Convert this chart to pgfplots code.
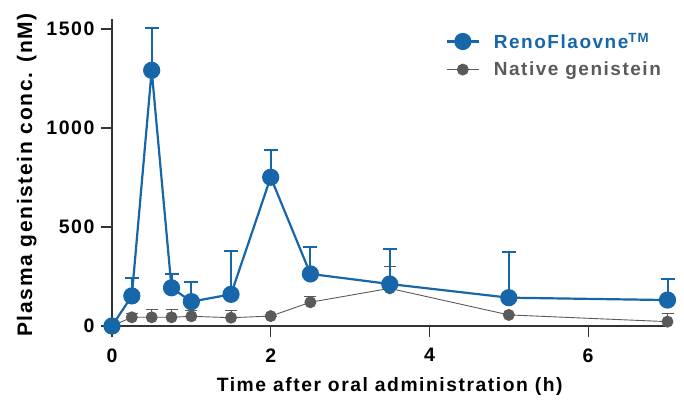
\documentclass[border=0pt]{standalone}
\usepackage{pgfplots}
\pgfplotsset{compat=1.18}
\usepackage{fontspec}
\setmainfont{Liberation Sans}[LetterSpace=8]
\definecolor{reno}{HTML}{1766AA}
\definecolor{nat}{HTML}{5A5A5A}
\begin{document}
\begin{tikzpicture}
\begin{axis}[
  scale only axis, width=555.5pt, height=307pt,
  xmin=0, xmax=7, ymin=0, ymax=1550,
  clip=false,
  axis x line=bottom, axis y line=left,
  axis line style={-, line width=1.2pt, black!80},
  tick style={line width=1.2pt, black!80},
  tick align=outside, major tick length=11pt,
  xtick={0,2,4,6}, ytick={0,500,1000,1500},
  minor tick num=0,
  /pgf/number format/assume math mode=true,
  /pgf/number format/1000 sep={},
  tick label style={font=\bfseries\fontsize{19.5}{19.5}\selectfont},
  xticklabel style={yshift=-8pt},
  yticklabel style={xshift=-3pt},
  xlabel={Time after oral administration (h)},
  ylabel={Plasma genistein conc. (nM)},
  xlabel style={font=\bfseries\fontsize{19.3}{19.3}\selectfont, yshift=-8.5pt},
  ylabel style={font=\bfseries\fontsize{21}{21}\selectfont, yshift=3pt, xshift=-2.5pt},
  legend style={draw=none, fill=none, at={(rel axis cs:0.595,0.968)}, anchor=north west,
    row sep=8pt, column sep=12pt, font=\bfseries\fontsize{19}{19}\selectfont},
  legend cell align=left,
  reverse legend,
  legend image code/.code={\draw[#1] (0pt,0pt) -- (32pt,0pt); \draw[#1, mark repeat=2, mark phase=2] plot coordinates {(0pt,0pt) (16pt,0pt) (32pt,0pt)};},
]
\addplot[color=nat, line width=0.9pt, mark=*, mark size=5.5pt, mark options={fill=nat, draw=nat},
  error bars/.cd, y dir=plus, y explicit, error bar style={line width=0.9pt, color=nat}, error mark options={rotate=90, mark size=6pt, line width=0.9pt, color=nat}]
  table[x=x, y=y, y error=e] {
x y e
0 0 0
0.25 44 20
0.5 44 40
0.75 44 40
1 49 32
1.5 42 35
2 50 0
2.5 120 31
3.5 190 110
5 56 0
7 22 39
};
\addlegendentry{\textcolor{nat}{Native genistein}}
\addplot[color=reno, line width=2.2pt, mark=*, mark size=7.5pt, mark options={fill=reno, draw=reno},
  error bars/.cd, y dir=plus, y explicit, error bar style={line width=2pt, color=reno}, error mark options={rotate=90, mark size=7pt, line width=2pt, color=reno}]
  table[x=x, y=y, y error=e] {
x y e
0 0 0
0.25 152 90
0.5 1291 215
0.75 193 70
1 123 101
1.5 160 220
2 751 138
2.5 263 137
3.5 212 177
5 143 229
7 131 105
};
\addlegendentry{\textcolor{reno}{RenoFlaovne\textsuperscript{TM}}}
\end{axis}
\pgfresetboundingbox
\path (-112pt,-74pt) rectangle (572pt,326pt);
\end{tikzpicture}
\end{document}
